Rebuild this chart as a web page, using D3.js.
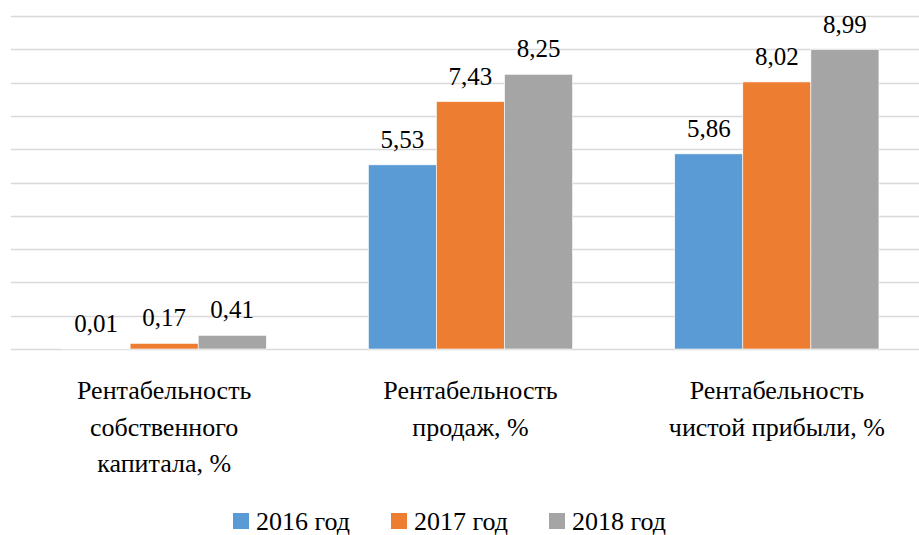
<!DOCTYPE html>
<html>
<head>
<meta charset="utf-8">
<script src="https://cdn.jsdelivr.net/npm/d3@7"></script>
</head>
<body style="margin:0">
<svg id="chart" width="919" height="535"></svg>
<script>
// categories (lines of each label)
const categories = [
  ["Рентабельность", "собственного", "капитала, %"],
  ["Рентабельность", "продаж, %"],
  ["Рентабельность", "чистой прибыли, %"]
]
const seriesNames = ["2016 год", "2017 год", "2018 год"]
const values2016 = [0.01, 5.53, 5.86]
const values2017 = [0.17, 7.43, 8.02]
const values2018 = [0.41, 8.25, 8.99]
const gridTicks = [0, 1, 2, 3, 4, 5, 6, 7, 8, 9, 10]
const colors = ["#5b9bd5", "#ed7d31", "#a5a5a5"]

const width = 919, height = 535
const margin = { top: 16, right: -11, bottom: 186, left: 11 }
const w = width - margin.left - margin.right
const h = height - margin.top - margin.bottom

const series = [values2016, values2017, values2018]
const fmt = v => v.toFixed(2).replace('.', ',')
const fontName = 'Liberation Serif'

const svg = d3.select('#chart')

const chart = svg.append('g')
  .attr('transform', `translate(${margin.left}, ${margin.top})`)

const x = d3.scaleBand()
  .domain(d3.range(categories.length))
  .range([0, w])
  .paddingInner(1 / 3)
  .paddingOuter(1 / 6)

const xs = d3.scaleBand()
  .domain(d3.range(series.length))
  .range([0, x.bandwidth()])

const y = d3.scaleLinear()
  .domain([0, 10])
  .range([h, 0])

// gridlines
chart.append('g')
  .selectAll('line')
  .data(gridTicks)
  .join('line')
    .attr('x1', 0)
    .attr('x2', w)
    .attr('y1', d => Math.round(y(d)) + 0.5)
    .attr('y2', d => Math.round(y(d)) + 0.5)
    .attr('stroke', '#d9d9d9')
    .attr('stroke-width', 1.3)

// bars
const group = chart.selectAll('.group')
  .data(categories)
  .join('g')
    .attr('class', 'group')
    .attr('transform', (d, i) => `translate(${x(i)}, 0)`)

group.selectAll('rect')
  .data((d, i) => series.map((s, j) => ({ j, v: s[i] })))
  .join('rect')
    .attr('x', d => xs(d.j))
    .attr('width', xs.bandwidth())
    .attr('y', d => y(d.v))
    .attr('height', d => y(0) - y(d.v))
    .attr('fill', d => colors[d.j])
    .attr('stroke', '#fff')
    .attr('stroke-width', 0.6)

group.selectAll('.val')
  .data((d, i) => series.map((s, j) => ({ j, v: s[i] })))
  .join('text')
    .attr('class', 'val')
    .attr('x', d => xs(d.j) + xs.bandwidth() / 2)
    .attr('y', d => y(d.v) - 17)
    .attr('text-anchor', 'middle')
    .attr('font-size', 25)
    .attr('fill', '#000')
    .text(d => fmt(d.v))

// category labels
const cat = chart.append('g')
  .selectAll('text')
  .data(categories)
  .join('text')
    .attr('text-anchor', 'middle')
    .attr('font-size', 26)
    .attr('fill', '#000')
    .attr('transform', (d, i) => `translate(${x(i) + x.bandwidth() / 2}, ${h + 50})`)

cat.selectAll('tspan')
  .data(d => d)
  .join('tspan')
    .attr('x', 0)
    .attr('dy', (d, i) => i === 0 ? 0 : 36.5)
    .text(d => d)

// legend
const legend = svg.append('g')
  .attr('transform', 'translate(233, 513)')

const item = legend.selectAll('g')
  .data(seriesNames)
  .join('g')
    .attr('transform', (d, i) => `translate(${i * 158}, 0)`)

item.append('rect')
  .attr('width', 16)
  .attr('height', 16)
  .attr('fill', (d, i) => colors[i])

item.append('text')
  .attr('x', 23)
  .attr('y', 17)
  .attr('font-size', 26)
  .attr('fill', '#000')
  .text(d => d)

// apply the serif font now and again once it is loaded
const setFont = () => svg.selectAll('text').attr('font-family', fontName)
setFont()
if (document.fonts && document.fonts.load) {
  document.fonts.load(`26px "${fontName}"`, 'Рентабельность 0,123456789').then(setFont)
}
</script>
</body>
</html>
